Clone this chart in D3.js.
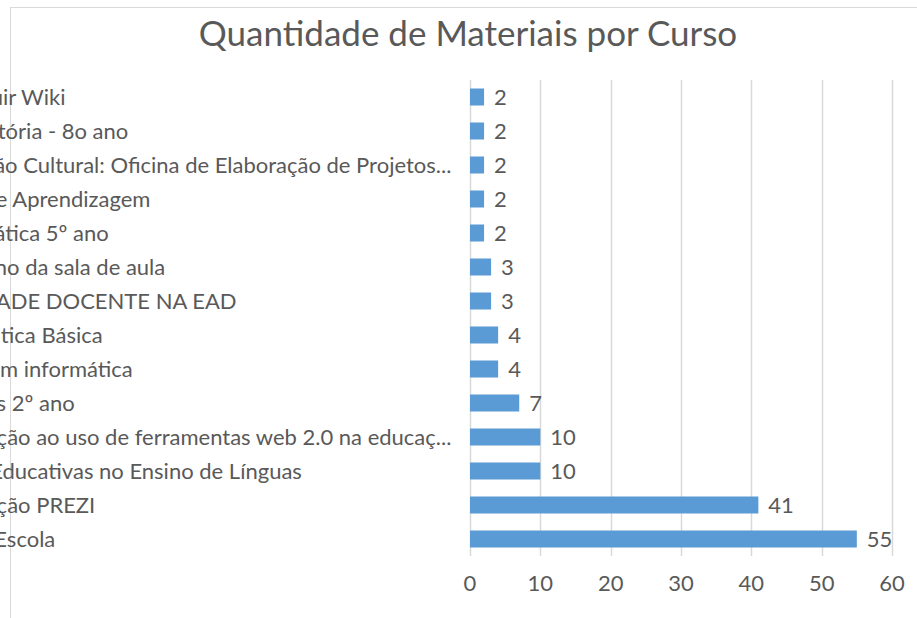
<!DOCTYPE html>
<html>
<head>
<meta charset="utf-8">
<script src="https://cdn.jsdelivr.net/npm/d3@7"></script>
<style>
  body { margin: 0; background: #fff; }
  svg { display: block; font-family: Lato, 'Open Sans', sans-serif; }
</style>
</head>
<body>
<svg></svg>
<script>
// chart data, top row first
const cursos = [
  'Construir Wiki',
  'Pré-História - 8o ano',
  'Produção Cultural: Oficina de Elaboração de Projetos Culturais',
  'Ensino e Aprendizagem',
  'Matemática 5º ano',
  'Cotidiano da sala de aula',
  'ATIVIDADE DOCENTE NA EAD',
  'Informática Básica',
  'Curso em informática',
  'Ciências 2º ano',
  'Introdução ao uso de ferramentas web 2.0 na educação',
  'Ações Educativas no Ensino de Línguas',
  'Introdução PREZI',
  'TIC na Escola'
];
const materiais = [2, 2, 2, 2, 2, 3, 3, 4, 4, 7, 10, 10, 41, 55];
const xTicks = [0, 10, 20, 30, 40, 50, 60];
const titulo = 'Quantidade de Materiais por Curso';

const size = {w: 917, h: 618};
const plot = {l: 470, r: 892, t: 80, b: 556};
const labelX = -74;      // labels start left of the visible area
const labelMaxX = 458;   // labels longer than this get "..."
const fontSize = 22;
const textColor = '#595959';
const gridColor = '#d9d9d9';

const svg = d3.select('svg')
    .attr('width', size.w)
    .attr('height', size.h);

// outer chart border (only top and left visible in this crop)
svg.append('line')
    .attr('x1', 10).attr('x2', size.w)
    .attr('y1', 7.5).attr('y2', 7.5)
    .attr('stroke', gridColor);
svg.append('line')
    .attr('x1', 10.5).attr('x2', 10.5)
    .attr('y1', 7).attr('y2', size.h)
    .attr('stroke', gridColor);

svg.append('text')
    .attr('x', 468)
    .attr('y', 46)
    .attr('text-anchor', 'middle')
    .attr('font-size', 35)
    .attr('fill', textColor)
    .text(titulo);

const x = d3.scaleLinear()
    .domain([0, 60])
    .range([plot.l, plot.r]);

const y = d3.scaleBand()
    .domain(cursos)
    .range([plot.t, plot.b])
    .paddingInner(0.5)
    .paddingOuter(0.25);

// gridlines
svg.append('g')
    .selectAll('line')
    .data(xTicks)
    .join('line')
    .attr('x1', d => Math.round(x(d)) + 0.5)
    .attr('x2', d => Math.round(x(d)) + 0.5)
    .attr('y1', plot.t)
    .attr('y2', plot.b)
    .attr('stroke', gridColor)
    .attr('stroke-width', 1.5);

// x axis tick labels
svg.append('g')
    .selectAll('text')
    .data(xTicks)
    .join('text')
    .attr('x', d => x(d))
    .attr('y', 591)
    .attr('text-anchor', 'middle')
    .attr('font-size', fontSize)
    .attr('fill', textColor)
    .text(d => d);

const rows = cursos.map((c, i) => ({curso: c, valor: materiais[i]}));

// bars
svg.append('g')
    .selectAll('rect')
    .data(rows)
    .join('rect')
    .attr('x', x(0))
    .attr('y', d => y(d.curso))
    .attr('width', d => x(d.valor) - x(0))
    .attr('height', y.bandwidth())
    .attr('fill', '#5b9bd5');

// value labels
svg.append('g')
    .selectAll('text')
    .data(rows)
    .join('text')
    .attr('x', d => x(d.valor) + 10)
    .attr('y', d => y(d.curso) + y.bandwidth() / 2 + 8)
    .attr('font-size', fontSize)
    .attr('fill', textColor)
    .text(d => d.valor);

// category labels, left aligned, truncated like Excel does
const labels = svg.append('g')
    .selectAll('text')
    .data(rows)
    .join('text')
    .attr('x', labelX)
    .attr('y', d => y(d.curso) + y.bandwidth() / 2 + 8)
    .attr('font-size', fontSize)
    .attr('fill', textColor)
    .text(d => d.curso);

labels.each(function(d) {
    const t = d3.select(this);
    let s = d.curso;
    if (this.getComputedTextLength() <= labelMaxX - labelX) return;
    while (s.length > 1) {
        s = s.slice(0, -1);
        t.text(s.trimEnd() + '...');
        if (this.getComputedTextLength() <= labelMaxX - labelX) break;
    }
});
</script>
</body>
</html>
